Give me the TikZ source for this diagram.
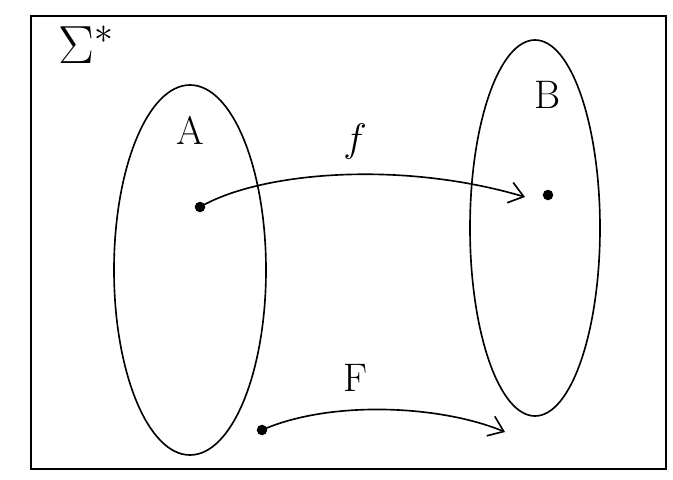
\documentclass[tikz,border=0pt]{standalone}
\usepackage{fix-cm}
\usetikzlibrary{arrows.meta}
\begin{document}
\begin{tikzpicture}[x=0.03cm,y=-0.03cm,
  pen/.style={line width=1.4pt,black},
  lbl/.style={font=\fontsize{34}{34}\selectfont},
  dotmark/.style={circle,fill=black,inner sep=0pt,minimum size=9pt},
  arr/.style={pen,-{Straight Barb[length=12pt,width=18pt]}}]
\useasboundingbox (0,0) rectangle (673,480);
\node[draw=black,line width=1.4pt,anchor=north west,inner sep=0pt,minimum width=19.05cm,minimum height=13.6cm] (frame) at (30,15) {};
\node[lbl] (sigma) at (86,45) {\scalebox{1.35}{$\Sigma^{*}$}};
\draw[pen] (190,270) ellipse [x radius=76,y radius=185];
\coordinate (ellA) at (190,270);
\draw[pen] (535,228) ellipse [x radius=65,y radius=188];
\coordinate (ellB) at (535,228);
\node[lbl] (A) at (190,130) {A};
\node[lbl] (B) at (548,95) {B};
\node[lbl] (f) at (355,142) {$f$};
\node[lbl] (F) at (355,378) {F};
\node[dotmark] (a) at (200,207) {};
\node[dotmark] (b) at (548,195) {};
\coordinate (fend) at (525,197);
\draw[arr] (a.center) .. controls (260,172) and (400,160) .. (fend);
\node[dotmark] (c) at (262,430) {};
\coordinate (Fend) at (505,432);
\draw[arr] (c.center) .. controls (330,400) and (440,405) .. (Fend);
\end{tikzpicture}
\end{document}
